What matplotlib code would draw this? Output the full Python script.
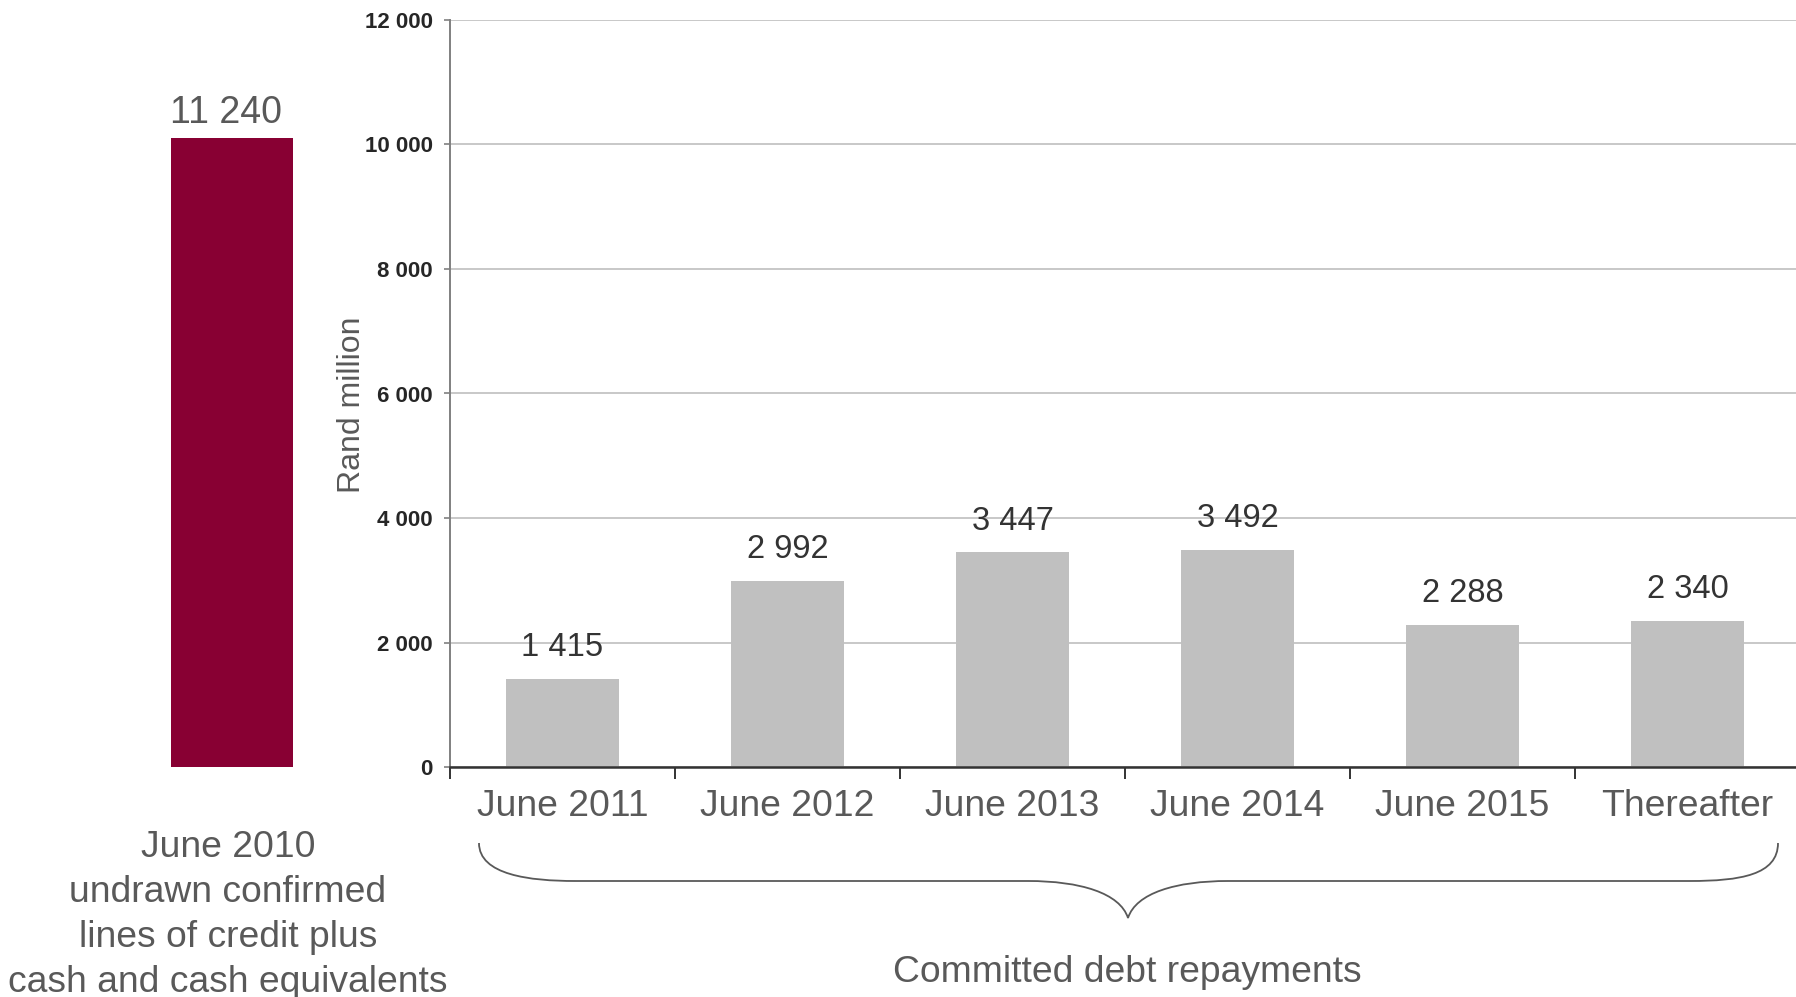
import numpy as np
import matplotlib
matplotlib.use('Agg')
import matplotlib.pyplot as plt
from matplotlib.path import Path
from matplotlib.patches import PathPatch
from matplotlib.transforms import Affine2D

# Data
left_label = 'June 2010\nundrawn confirmed\nlines of credit plus\ncash and cash equivalents'
left_value = 11240
categories = ['June 2011', 'June 2012', 'June 2013', 'June 2014', 'June 2015', 'Thereafter']
repayments = [1415, 2992, 3447, 3492, 2288, 2340]
y_ticks = [0, 2000, 4000, 6000, 8000, 10000, 12000]
y_label = 'Rand million'
group_label = 'Committed debt repayments'

plt.rcParams['font.family'] = ['Liberation Sans', 'DejaVu Sans']

W, H = 1796, 997
fig = plt.figure(figsize=(W / 100, H / 100), dpi=100)

def fmt(v):
    return f'{v:,}'.replace(',', ' ')

# px -> figure fraction helper (y measured from top)
def box(x0, y0, x1, y1):
    return [x0 / W, 1 - y1 / H, (x1 - x0) / W, (y1 - y0) / H]

# Left bar (its own scale)
axl = fig.add_axes(box(171, 138, 293, 767))
axl.bar([0], [left_value], width=1.0, color='#880033')
axl.set_xlim(-0.5, 0.5)
axl.set_ylim(0, left_value)
axl.axis('off')
axl.annotate(fmt(left_value), (0, left_value), xytext=(-4, 11), textcoords='offset points',
             ha='center', va='baseline', fontsize=27, color='#595959', annotation_clip=False)
fig.text(228 / W, 1 - 915 / H, left_label, ha='center', va='center', fontsize=26.8,
         color='#595959', linespacing=1.37)

# Main axes
ax = fig.add_axes(box(450, 20, 1800, 767))
x = np.arange(len(categories))
ax.bar(x, repayments, width=0.506, color='#C0C0C0', zorder=3)
for xi, v in zip(x, repayments):
    ax.annotate(fmt(v), (xi, v), xytext=(0, 16.5), textcoords='offset points', ha='center',
                va='baseline', fontsize=23.5, color='#333333', zorder=4)

ax.set_xlim(-0.5, len(categories) - 0.5)
ax.set_ylim(0, y_ticks[-1])
ax.set_yticks(y_ticks)
ax.set_yticklabels([fmt(t) for t in y_ticks], fontsize=16, fontweight='bold', color='#262626')
ax.tick_params(axis='y', length=4.3, width=1.2, color='#808080', pad=8)
ax.yaxis.grid(True, color='#BFBFBF', lw=1.2, zorder=0)
ax.set_axisbelow(True)

ax.set_xticks(np.arange(-0.5, len(categories) - 0.4, 1.0))
ax.set_xticklabels([])
ax.set_xticks(x, minor=True)
ax.set_xticklabels(categories, minor=True, fontsize=26.8, color='#595959')
ax.tick_params(axis='x', which='major', length=8.6, width=1.4, color='#333333', direction='out')
ax.tick_params(axis='x', which='minor', length=0, pad=16)

for s in ['top', 'right']:
    ax.spines[s].set_visible(False)
ax.spines['left'].set_color('#808080')
ax.spines['left'].set_linewidth(1.4)
ax.spines['bottom'].set_color('#333333')
ax.spines['bottom'].set_linewidth(1.8)
ax.spines['bottom'].set_zorder(5)

fig.text(352 / W, 1 - 405 / H, y_label, rotation=90, ha='center', va='center',
         fontsize=23, color='#595959')

# Brace under the categories (pixel coords, y down)
verts = [(479, 843), (479, 875), (530, 881), (575, 881),
         (1028, 881),
         (1080, 881), (1120, 893), (1128, 918),
         (1136, 893), (1176, 881), (1228, 881),
         (1690, 881),
         (1740, 881), (1778, 875), (1778, 843)]
codes = [Path.MOVETO, Path.CURVE4, Path.CURVE4, Path.CURVE4,
         Path.LINETO,
         Path.CURVE4, Path.CURVE4, Path.CURVE4,
         Path.CURVE4, Path.CURVE4, Path.CURVE4,
         Path.LINETO,
         Path.CURVE4, Path.CURVE4, Path.CURVE4]
px2fig = Affine2D().scale(1 / W, -1 / H).translate(0, 1) + fig.transFigure
fig.patches.append(PathPatch(Path(verts, codes), fill=False, edgecolor='#595959', lw=1.3,
                             transform=px2fig, figure=fig))

fig.text(1127 / W, 1 - 972 / H, group_label, ha='center', va='center', fontsize=26.8,
         color='#595959')

fig.savefig('out.png', dpi=100)
